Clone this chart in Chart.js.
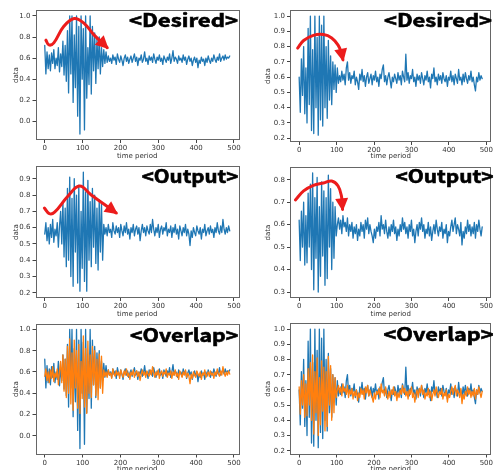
<!DOCTYPE html>
<html lang="en">
<head>
<meta charset="UTF-8">
<title>Desired / Output / Overlap</title>
<script src="https://cdn.jsdelivr.net/npm/chart.js"></script>
<style>
  body { margin: 0; background: #fff; }
  #wrap { position: relative; width: 494px; height: 470px; overflow: hidden; background: #fff; }
  canvas { position: absolute; }
</style>
</head>
<body>
<div id="wrap">
  <canvas id="p1" width="247" height="160" style="left:0;top:0"></canvas>
  <canvas id="p2" width="247" height="160" style="left:247px;top:0"></canvas>
  <canvas id="p3" width="247" height="158" style="left:0;top:160px"></canvas>
  <canvas id="p4" width="247" height="158" style="left:247px;top:160px"></canvas>
  <canvas id="p5" width="247" height="158" style="left:0;top:315px"></canvas>
  <canvas id="p6" width="247" height="158" style="left:247px;top:315px"></canvas>
</div>
<script>
// one sample every 3 time steps
const timeStep = 3;

const desiredA = [
  0.72, 0.45, 0.66, 0.5, 0.63, 0.48, 0.65, 0.55, 0.68, 0.5, 0.6, 0.53, 0.7, 0.47, 0.64, 0.52,
  0.76, 0.44, 0.72, 0.38, 0.86, 0.27, 1.0, 0.45, 1.0, 0.18, 0.82, 0.32, 1.0, 0.05,
  0.9, -0.12, 1.0, 0.4, 0.88, -0.08, 1.0, 0.22, 0.7, 0.35, 1.0, 0.26, 0.9, 0.48,
  0.84, 0.36, 0.78, 0.5, 0.8, 0.45, 0.7, 0.52, 0.68, 0.55, 0.66, 0.56,
  0.62, 0.57, 0.6, 0.55, 0.63, 0.58, 0.61, 0.54, 0.64, 0.59, 0.56, 0.62,
  0.58, 0.53, 0.6, 0.63, 0.57, 0.61, 0.55, 0.59, 0.62, 0.56, 0.6, 0.64,
  0.57, 0.61, 0.53, 0.6, 0.58, 0.63, 0.56, 0.59, 0.66, 0.57, 0.6, 0.54,
  0.62, 0.58, 0.61, 0.56, 0.64, 0.59, 0.55, 0.61, 0.58, 0.63, 0.57, 0.6,
  0.54, 0.62, 0.59, 0.56, 0.61, 0.58, 0.64, 0.55, 0.6, 0.67, 0.57, 0.61,
  0.59, 0.55, 0.62, 0.58, 0.6, 0.56, 0.63, 0.58, 0.61, 0.54, 0.59, 0.62,
  0.57, 0.6, 0.53, 0.58, 0.61, 0.56, 0.6, 0.51, 0.58, 0.55, 0.61, 0.57,
  0.59, 0.53, 0.6, 0.56, 0.62, 0.58, 0.55, 0.6, 0.57, 0.63, 0.59, 0.56,
  0.61, 0.58, 0.64, 0.57, 0.6, 0.62, 0.58, 0.63, 0.59, 0.61, 0.6, 0.62
];

const desiredB = [
  0.6, 0.37, 0.72, 0.48, 0.8, 0.36, 0.66, 0.3, 0.92, 0.42, 1.0, 0.25, 0.78, 0.23, 1.0, 0.4,
  0.86, 0.22, 1.0, 0.32, 0.94, 0.28, 1.0, 0.4, 0.8, 0.33, 0.84, 0.45, 0.74, 0.42, 0.7, 0.52,
  0.68, 0.5, 0.66, 0.56,
  0.61, 0.57, 0.64, 0.58, 0.62, 0.55, 0.66, 0.7, 0.58, 0.63, 0.56, 0.61,
  0.59, 0.64, 0.55, 0.6, 0.57, 0.52, 0.62, 0.58, 0.65, 0.57, 0.61, 0.54,
  0.6, 0.63, 0.56, 0.59, 0.62, 0.55, 0.61, 0.58, 0.64, 0.57, 0.6, 0.54,
  0.62, 0.59, 0.65, 0.68, 0.57, 0.61, 0.55, 0.6, 0.63, 0.58, 0.53, 0.6,
  0.57, 0.62, 0.59, 0.56, 0.63, 0.58, 0.61, 0.55, 0.64, 0.6, 0.57, 0.75,
  0.58, 0.63, 0.56, 0.61, 0.59, 0.65, 0.57, 0.6, 0.54, 0.62, 0.58, 0.61,
  0.56, 0.63, 0.59, 0.55, 0.61, 0.58, 0.64, 0.57, 0.6, 0.53, 0.62, 0.59,
  0.66, 0.57, 0.6, 0.55, 0.62, 0.58, 0.61, 0.56, 0.63, 0.59, 0.57, 0.61,
  0.54, 0.6, 0.58, 0.64, 0.57, 0.61, 0.55, 0.62, 0.59, 0.56, 0.65, 0.58,
  0.6, 0.55, 0.62, 0.57, 0.63, 0.59, 0.56, 0.61, 0.58, 0.64, 0.57, 0.6,
  0.55, 0.51, 0.6, 0.57, 0.63, 0.58, 0.61, 0.59
];

const outputA = [
  0.56, 0.63, 0.52, 0.6, 0.5, 0.62, 0.54, 0.65, 0.51, 0.59, 0.55, 0.63, 0.48, 0.61,
  0.7, 0.5, 0.76, 0.42, 0.72, 0.36, 0.84, 0.4, 0.91, 0.3, 0.78, 0.24, 0.9, 0.45, 0.8,
  0.26, 0.86, 0.21, 0.7, 0.35, 0.94, 0.27, 0.82, 0.21, 0.89, 0.4, 0.76, 0.36, 0.84,
  0.48, 0.8, 0.38, 0.72, 0.34, 0.77, 0.45, 0.75, 0.4, 0.62,
  0.56, 0.6, 0.55, 0.62, 0.57, 0.59, 0.54, 0.63, 0.58, 0.56, 0.61, 0.57,
  0.6, 0.54, 0.62, 0.58, 0.55, 0.61, 0.57, 0.63, 0.56, 0.59, 0.53, 0.6,
  0.57, 0.62, 0.55, 0.59, 0.61, 0.56, 0.6, 0.52, 0.58, 0.62, 0.57, 0.6,
  0.55, 0.61, 0.58, 0.56, 0.62, 0.57, 0.65, 0.59, 0.55, 0.6, 0.57, 0.62,
  0.54, 0.59, 0.61, 0.56, 0.6, 0.58, 0.63, 0.55, 0.59, 0.57, 0.61, 0.54,
  0.6, 0.57, 0.62, 0.56, 0.59, 0.53, 0.61, 0.58, 0.55, 0.6, 0.57, 0.62,
  0.55, 0.59, 0.56, 0.49, 0.58, 0.54, 0.6, 0.57, 0.55, 0.61, 0.58, 0.56,
  0.6, 0.53, 0.59, 0.57, 0.62, 0.55, 0.58, 0.6, 0.56, 0.61, 0.57, 0.59,
  0.54, 0.6, 0.57, 0.63, 0.58, 0.56, 0.61, 0.57, 0.65, 0.59, 0.56, 0.6,
  0.57, 0.61, 0.58
];

const outputB = [
  0.62, 0.44, 0.66, 0.5, 0.7, 0.42, 0.64, 0.43, 0.74, 0.5, 0.78, 0.4, 0.83, 0.31, 0.72, 0.45,
  0.81, 0.3, 0.68, 0.37, 0.79, 0.46, 0.75, 0.33, 0.72, 0.36, 0.82, 0.5, 0.76, 0.4, 0.7, 0.45,
  0.68, 0.55,
  0.6, 0.63, 0.58, 0.62, 0.56, 0.64, 0.59, 0.61, 0.57, 0.63, 0.55, 0.6,
  0.57, 0.61, 0.54, 0.59, 0.56, 0.6, 0.53, 0.58, 0.55, 0.61, 0.57, 0.6,
  0.54, 0.62, 0.58, 0.63, 0.56, 0.6, 0.57, 0.55, 0.52, 0.58, 0.54, 0.59,
  0.57, 0.61, 0.55, 0.64, 0.58, 0.6, 0.56, 0.62, 0.57, 0.54, 0.59, 0.55,
  0.6, 0.57, 0.62, 0.56, 0.59, 0.53, 0.58, 0.55, 0.6, 0.57, 0.63, 0.58,
  0.61, 0.56, 0.59, 0.54, 0.6, 0.57, 0.62, 0.55, 0.58, 0.52, 0.57, 0.6,
  0.55, 0.61, 0.58, 0.63, 0.57, 0.6, 0.54, 0.58, 0.56, 0.61, 0.55, 0.59,
  0.53, 0.57, 0.6, 0.56, 0.62, 0.58, 0.55, 0.59, 0.57, 0.61, 0.54, 0.58,
  0.56, 0.6, 0.52, 0.57, 0.55, 0.59, 0.62, 0.57, 0.6, 0.63, 0.56, 0.6,
  0.58, 0.55, 0.61, 0.51, 0.57, 0.54, 0.59, 0.56, 0.62, 0.57, 0.6, 0.55,
  0.59, 0.56, 0.61, 0.54, 0.6, 0.57, 0.62, 0.58, 0.55, 0.59
];

// hand-drawn red arrows, in data units of each panel
const arrowDesiredAX = [3, 11, 24, 50, 78, 104, 130, 165];
const arrowDesiredAY = [0.77, 0.725, 0.745, 0.9, 0.975, 0.93, 0.82, 0.70];
const arrowDesiredBX = [-4, 12, 38, 65, 87, 104, 113, 117];
const arrowDesiredBY = [0.79, 0.84, 0.874, 0.879, 0.857, 0.81, 0.76, 0.714];
const arrowOutputAX = [-1, 12, 26, 61, 92, 123, 158, 189];
const arrowOutputAY = [0.72, 0.686, 0.695, 0.793, 0.855, 0.8, 0.742, 0.69];
const arrowOutputBX = [-10, 12, 38, 65, 87, 104, 113, 116];
const arrowOutputBY = [0.71, 0.75, 0.775, 0.785, 0.794, 0.772, 0.727, 0.668];

const xTicks = [0, 100, 200, 300, 400, 500];
const yTicksWide = [0.0, 0.2, 0.4, 0.6, 0.8, 1.0];
const yTicksNarrow = [0.2, 0.3, 0.4, 0.5, 0.6, 0.7, 0.8, 0.9, 1.0];
const yTicksOutA = [0.2, 0.3, 0.4, 0.5, 0.6, 0.7, 0.8, 0.9];
const yTicksOutB = [0.3, 0.4, 0.5, 0.6, 0.7, 0.8];

const BLUE = '#1f77b4';
const ORANGE = '#ff7f0e';
const RED = '#ec1c1c';

const toPoints = vals => vals.map((v, i) => ({ x: i * timeStep, y: v }));
const zipPoints = (xs, ys) => xs.map((x, i) => ({ x: x, y: ys[i] }));

const boxPlugin = {
  id: 'box',
  afterDatasetsDraw(chart) {
    const { ctx, chartArea: a } = chart;
    ctx.save();
    ctx.strokeStyle = '#666';
    ctx.lineWidth = 1;
    ctx.strokeRect(Math.round(a.left) + 0.5, Math.round(a.top) + 0.5,
      Math.round(a.right - a.left) - 1, Math.round(a.bottom - a.top) - 1);
    ctx.restore();
  }
};

const arrowHeadPlugin = {
  id: 'arrowHead',
  afterDatasetsDraw(chart) {
    const ctx = chart.ctx;
    chart.data.datasets.forEach((ds, i) => {
      if (!ds.arrow) return;
      const pts = chart.getDatasetMeta(i).data;
      const a = pts[pts.length - 2], b = pts[pts.length - 1];
      const ang = Math.atan2(b.y - a.y, b.x - a.x);
      ctx.save();
      ctx.translate(b.x, b.y);
      ctx.rotate(ang);
      ctx.beginPath();
      ctx.moveTo(2, 0);
      ctx.lineTo(-11, -6.5);
      ctx.lineTo(-11, 6.5);
      ctx.closePath();
      ctx.fillStyle = ds.borderColor;
      ctx.fill();
      ctx.restore();
    });
  }
};

const headingPlugin = {
  id: 'heading',
  afterDraw(chart, args, opts) {
    if (!opts.text) return;
    const ctx = chart.ctx;
    ctx.save();
    ctx.font = 'bold 18px "Noto Sans CJK KR", "DejaVu Sans", sans-serif';
    const w = ctx.measureText(opts.text).width;
    ctx.translate(opts.right - opts.width, opts.baseline);
    ctx.scale(opts.width / w, 1);
    ctx.fillStyle = '#000';
    ctx.strokeStyle = '#000';
    ctx.lineWidth = 0.6;
    ctx.textBaseline = 'alphabetic';
    ctx.fillText(opts.text, 0, 0);
    ctx.strokeText(opts.text, 0, 0);
    ctx.restore();
  }
};

const tickFont = { family: 'DejaVu Sans', size: 7 };

function makePanel(id, p) {
  const datasets = [];
  if (p.arrowX) {
    datasets.push({
      data: zipPoints(p.arrowX, p.arrowY), arrow: true, order: 0,
      borderColor: RED, borderWidth: 3, tension: 0.4, pointRadius: 0,
      borderCapStyle: 'round', borderJoinStyle: 'round'
    });
  }
  p.series.forEach((s, k) => {
    datasets.push({
      data: toPoints(s.values), order: 10 - k,
      borderColor: s.color, borderWidth: 1.3, pointRadius: 0, tension: 0,
      borderJoinStyle: 'round', borderCapStyle: 'round'
    });
  });

  new Chart(document.getElementById(id), {
    type: 'line',
    data: { datasets: datasets },
    plugins: [boxPlugin, arrowHeadPlugin, headingPlugin],
    options: {
      responsive: false,
      animation: false,
      devicePixelRatio: 1,
      events: [],
      layout: { padding: { left: 0, top: p.padTop, right: p.padRight, bottom: 0 } },
      plugins: {
        legend: { display: false },
        tooltip: { enabled: false },
        heading: p.heading
      },
      scales: {
        x: {
          type: 'linear', min: -24.45, max: 513.45,
          afterBuildTicks: s => { s.ticks = xTicks.map(v => ({ value: v })); },
          afterFit: s => { s.height = p.xAxisH; },
          grid: { drawOnChartArea: false, drawTicks: true, tickLength: 3, color: '#444' },
          border: { display: false },
          ticks: { font: tickFont, color: '#333', padding: 1, maxRotation: 0, autoSkip: false },
          title: { display: true, text: 'time period', font: tickFont, color: '#333', padding: { top: 0, bottom: 0 } }
        },
        y: {
          type: 'linear', min: p.yMin, max: p.yMax,
          afterBuildTicks: s => { s.ticks = p.yTicks.map(v => ({ value: v })); },
          afterFit: s => { s.width = p.yAxisW; },
          grid: { drawOnChartArea: false, drawTicks: true, tickLength: 3, color: '#444' },
          border: { display: false },
          ticks: { font: tickFont, color: '#333', padding: 2, callback: v => Number(v).toFixed(1) },
          title: { display: true, text: 'data', font: tickFont, color: '#333', padding: { top: p.yTitlePad, bottom: 0 } }
        }
      }
    }
  });
}

makePanel('p1', {
  series: [{ values: desiredA, color: BLUE }],
  arrowX: arrowDesiredAX, arrowY: arrowDesiredAY,
  yMin: -0.176, yMax: 1.056, yTicks: yTicksWide,
  padTop: 10, padRight: 8, yAxisW: 35.5, xAxisH: 20, yTitlePad: 11.8,
  heading: { text: '<Desired>', right: 238, baseline: 27, width: 109 }
});
makePanel('p2', {
  series: [{ values: desiredB, color: BLUE }],
  arrowX: arrowDesiredBX, arrowY: arrowDesiredBY,
  yMin: 0.175, yMax: 1.04, yTicks: yTicksNarrow,
  padTop: 10, padRight: 0, yAxisW: 43, xAxisH: 18, yTitlePad: 16.5,
  heading: { text: '<Desired>', right: 245, baseline: 27.3, width: 108 }
});
makePanel('p3', {
  series: [{ values: outputA, color: BLUE }],
  arrowX: arrowOutputAX, arrowY: arrowOutputAY,
  yMin: 0.168, yMax: 0.977, yTicks: yTicksOutA,
  padTop: 6, padRight: 8, yAxisW: 35.5, xAxisH: 20, yTitlePad: 11.8,
  heading: { text: '<Output>', right: 238.3, baseline: 23.3, width: 96.6 }
});
makePanel('p4', {
  series: [{ values: outputB, color: BLUE }],
  arrowX: arrowOutputBX, arrowY: arrowOutputBY,
  yMin: 0.2735, yMax: 0.8565, yTicks: yTicksOutB,
  padTop: 7, padRight: 0, yAxisW: 43, xAxisH: 20, yTitlePad: 16.5,
  heading: { text: '<Output>', right: 246.5, baseline: 23, width: 98 }
});
makePanel('p5', {
  series: [{ values: desiredA, color: BLUE }, { values: outputA, color: ORANGE }],
  yMin: -0.176, yMax: 1.056, yTicks: yTicksWide,
  padTop: 8.5, padRight: 8, yAxisW: 35.5, xAxisH: 18.5, yTitlePad: 11.8,
  heading: { text: '<Overlap>', right: 238.3, baseline: 26.7, width: 108.3 }
});
makePanel('p6', {
  series: [{ values: desiredB, color: BLUE }, { values: outputB, color: ORANGE }],
  yMin: 0.175, yMax: 1.04, yTicks: yTicksNarrow,
  padTop: 8, padRight: 0, yAxisW: 43, xAxisH: 18.5, yTitlePad: 16.5,
  heading: { text: '<Overlap>', right: 246.5, baseline: 26, width: 110 }
});
</script>
</body>
</html>
